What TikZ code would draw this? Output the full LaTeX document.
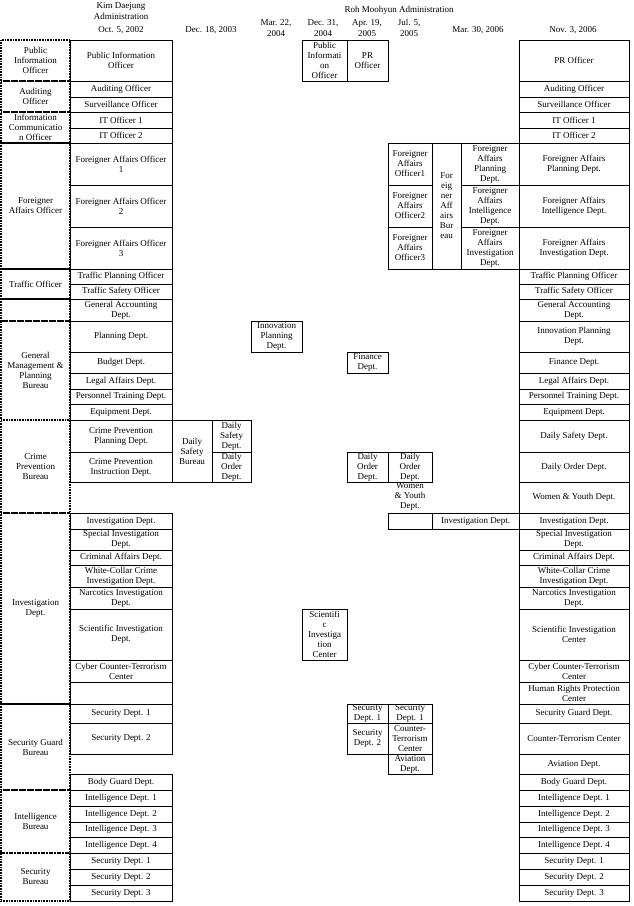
\documentclass[tikz,border=0pt]{standalone}
\usepackage{fontspec}
\setmainfont{Liberation Serif}
\tikzset{
  cellst/.style={draw, line width=0.6pt, inner sep=0pt, outer sep=0pt, align=center, font=\fontsize{9}{10}\selectfont},
  leftst/.style={densely dotted, line width=1.1pt},
  plain/.style={inner sep=0pt, outer sep=0pt, align=center, font=\fontsize{9}{10.5}\selectfont},
}
\newcommand\cel[7][]{\node[cellst,#1, minimum width={(#5-#3)*1pt}, minimum height={(#6-#4)*1pt}] (#2) at ({(#3+#5)/2},{(#4+#6)/2}) {#7};}
\begin{document}
\begin{tikzpicture}[x=1pt,y=-1pt]
\useasboundingbox (0,0) rectangle (633,906);
% headers
\node[plain] (hkim) at (121,11) {Kim Daejung\\Administration};
\node[plain] (hroh) at (399,10) {Roh Moohyun Administration};
\node[plain] (h1) at (121,30) {Oct. 5, 2002};
\node[plain] (h2) at (211,30) {Dec. 18, 2003};
\node[plain] (h3) at (276,28) {Mar. 22,\\2004};
\node[plain] (h4) at (323,28) {Dec. 31,\\2004};
\node[plain] (h5) at (367,28) {Apr. 19,\\2005};
\node[plain] (h6) at (409,28) {Jul. 5,\\2005};
\node[plain] (h7) at (478,30) {Mar. 30, 2006};
\node[plain] (h8) at (573,30) {Nov. 3, 2006};
% column A
\cel[leftst]{A1}{1}{40}{70}{81}{Public\\Information\\Officer}
\cel[leftst]{A2}{1}{81}{70}{112}{Auditing\\Officer}
\cel[leftst]{A3}{1}{112}{70}{143}{Information\\Communicatio\\n Officer}
\cel[leftst]{A4}{1}{143}{70}{269}{Foreigner\\Affairs Officer}
\cel[leftst]{A5}{1}{269}{70}{299}{Traffic Officer}
\cel[leftst]{A6}{1}{299}{70}{321}{}
\cel[leftst]{A7}{1}{321}{70}{420}{General\\Management \&\\Planning\\Bureau}
\cel[leftst]{A8}{1}{420}{70}{513}{Crime\\Prevention\\Bureau}
\cel[leftst]{A9}{1}{513}{70}{704}{Investigation\\Dept.}
\cel[leftst]{A10}{1}{704}{70}{790}{Security Guard\\Bureau}
\cel[leftst]{A11}{1}{790}{70}{853}{Intelligence\\Bureau}
\cel[leftst]{A12}{1}{853}{70}{901}{Security\\Bureau}
% column B (Oct. 5, 2002)
\cel{B1}{70}{40}{172}{81}{Public Information\\Officer}
\cel{B2}{70}{81}{172}{97}{Auditing Officer}
\cel{B3}{70}{97}{172}{112}{Surveillance Officer}
\cel{B4}{70}{112}{172}{128}{IT Officer 1}
\cel{B5}{70}{128}{172}{143}{IT Officer 2}
\cel{B6}{70}{143}{172}{185}{Foreigner Affairs Officer\\1}
\cel{B7}{70}{185}{172}{227}{Foreigner Affairs Officer\\2}
\cel{B8}{70}{227}{172}{269}{Foreigner Affairs Officer\\3}
\cel{B9}{70}{269}{172}{284}{Traffic Planning Officer}
\cel{B10}{70}{284}{172}{299}{Traffic Safety Officer}
\cel{B11}{70}{299}{172}{321}{General Accounting\\Dept.}
\cel{B12}{70}{321}{172}{352}{Planning Dept.}
\cel{B13}{70}{352}{172}{373}{Budget Dept.}
\cel{B14}{70}{373}{172}{389}{Legal Affairs Dept.}
\cel{B15}{70}{389}{172}{404}{Personnel Training Dept.}
\cel{B16}{70}{404}{172}{420}{Equipment Dept.}
\cel{B17}{70}{420}{172}{452}{Crime Prevention\\Planning Dept.}
\cel{B18}{70}{452}{172}{482}{Crime Prevention\\Instruction Dept.}
\cel{B20}{70}{513}{172}{529}{Investigation Dept.}
\cel{B21}{70}{529}{172}{550}{Special Investigation\\Dept.}
\cel{B22}{70}{550}{172}{565}{Criminal Affairs Dept.}
\cel{B23}{70}{565}{172}{587}{White-Collar Crime\\Investigation Dept.}
\cel{B24}{70}{587}{172}{609}{Narcotics Investigation\\Dept.}
\cel{B25}{70}{609}{172}{660}{Scientific Investigation\\Dept.}
\cel{B26}{70}{660}{172}{682}{Cyber Counter-Terrorism\\Center}
\cel[line width=1pt]{B27}{70}{682}{172}{704}{}
\cel{B28}{70}{704}{172}{723}{Security Dept. 1}
\cel{B29}{70}{723}{172}{754}{Security Dept. 2}
\cel{B30}{70}{774}{172}{790}{Body Guard Dept.}
\cel{B31}{70}{790}{172}{806}{Intelligence Dept. 1}
\cel{B32}{70}{806}{172}{822}{Intelligence Dept. 2}
\cel{B33}{70}{822}{172}{837}{Intelligence Dept. 3}
\cel{B34}{70}{837}{172}{853}{Intelligence Dept. 4}
\cel{B35}{70}{853}{172}{869}{Security Dept. 1}
\cel{B36}{70}{869}{172}{885}{Security Dept. 2}
\cel{B37}{70}{885}{172}{901}{Security Dept. 3}
% Dec. 18, 2003
\cel{C1}{172}{420}{212}{482}{Daily\\Safety\\Bureau}
\cel{C2}{212}{420}{251}{452}{Daily\\Safety\\Dept.}
\cel{C3}{212}{452}{251}{482}{Daily\\Order\\Dept.}
% Mar. 22, 2004
\cel{D1}{251}{321}{302}{352}{Innovation\\Planning\\Dept.}
% Dec. 31, 2004
\cel{E1}{302}{40}{347}{81}{Public\\Informati\\on\\Officer}
\cel{E2}{302}{609}{347}{660}{Scientifi\\c\\Investiga\\tion\\Center}
% Apr. 19, 2005
\cel{F1}{347}{40}{388}{81}{PR\\Officer}
\cel{F2}{347}{352}{388}{373}{Finance\\Dept.}
\cel{F3}{347}{452}{388}{482}{Daily\\Order\\Dept.}
\cel{F4}{347}{704}{388}{723}{Security\\Dept. 1}
\cel{F5}{347}{723}{388}{754}{Security\\Dept. 2}
% Jul. 5, 2005
\cel{G1}{388}{143}{432}{185}{Foreigner\\Affairs\\Officer1}
\cel{G2}{388}{185}{432}{227}{Foreigner\\Affairs\\Officer2}
\cel{G3}{388}{227}{432}{269}{Foreigner\\Affairs\\Officer3}
\cel{G4}{388}{452}{432}{482}{Daily\\Order\\Dept.}
\node[plain, font=\fontsize{9}{10}\selectfont] (G5) at (410,497) {Women\\\& Youth\\Dept.};
\cel{G6}{388}{513}{432}{529}{}
\cel{G7}{388}{704}{432}{723}{Security\\Dept. 1}
\cel{G8}{388}{723}{432}{754}{Counter-\\Terrorism\\Center}
\cel{G9}{388}{754}{432}{774}{Aviation\\Dept.}
% Mar. 30, 2006
\cel{H1}{432}{143}{461}{269}{For\\eig\\ner\\Aff\\airs\\Bur\\eau}
\cel{H2}{461}{143}{519}{185}{Foreigner\\Affairs\\Planning\\Dept.}
\cel{H3}{461}{185}{519}{227}{Foreigner\\Affairs\\Intelligence\\Dept.}
\cel{H4}{461}{227}{519}{269}{Foreigner\\Affairs\\Investigation\\Dept.}
\cel{H5}{432}{513}{519}{529}{Investigation Dept.}
% Nov. 3, 2006
\cel{R1}{519}{40}{629}{81}{PR Officer}
\cel{R2}{519}{81}{629}{97}{Auditing Officer}
\cel{R3}{519}{97}{629}{112}{Surveillance Officer}
\cel{R4}{519}{112}{629}{128}{IT Officer 1}
\cel{R5}{519}{128}{629}{143}{IT Officer 2}
\cel{R6}{519}{143}{629}{185}{Foreigner Affairs\\Planning Dept.}
\cel{R7}{519}{185}{629}{227}{Foreigner Affairs\\Intelligence Dept.}
\cel{R8}{519}{227}{629}{269}{Foreigner Affairs\\Investigation Dept.}
\cel{R9}{519}{269}{629}{284}{Traffic Planning Officer}
\cel{R10}{519}{284}{629}{299}{Traffic Safety Officer}
\cel{R11}{519}{299}{629}{321}{General Accounting\\Dept.}
\cel{R12}{519}{321}{629}{352}{Innovation Planning\\Dept.}
\cel{R13}{519}{352}{629}{373}{Finance Dept.}
\cel{R14}{519}{373}{629}{389}{Legal Affairs Dept.}
\cel{R15}{519}{389}{629}{404}{Personnel Training Dept.}
\cel{R16}{519}{404}{629}{420}{Equipment Dept.}
\cel{R17}{519}{420}{629}{452}{Daily Safety Dept.}
\cel{R18}{519}{452}{629}{482}{Daily Order Dept.}
\cel{R19}{519}{482}{629}{513}{Women \& Youth Dept.}
\cel{R20}{519}{513}{629}{529}{Investigation Dept.}
\cel{R21}{519}{529}{629}{550}{Special Investigation\\Dept.}
\cel{R22}{519}{550}{629}{565}{Criminal Affairs Dept.}
\cel{R23}{519}{565}{629}{587}{White-Collar Crime\\Investigation Dept.}
\cel{R24}{519}{587}{629}{609}{Narcotics Investigation\\Dept.}
\cel{R25}{519}{609}{629}{660}{Scientific Investigation\\Center}
\cel{R26}{519}{660}{629}{682}{Cyber Counter-Terrorism\\Center}
\cel{R27}{519}{682}{629}{704}{Human Rights Protection\\Center}
\cel{R28}{519}{704}{629}{723}{Security Guard Dept.}
\cel{R29}{519}{723}{629}{754}{Counter-Terrorism Center}
\cel{R30}{519}{754}{629}{774}{Aviation Dept.}
\cel{R31}{519}{774}{629}{790}{Body Guard Dept.}
\cel{R32}{519}{790}{629}{806}{Intelligence Dept. 1}
\cel{R33}{519}{806}{629}{822}{Intelligence Dept. 2}
\cel{R34}{519}{822}{629}{837}{Intelligence Dept. 3}
\cel{R35}{519}{837}{629}{853}{Intelligence Dept. 4}
\cel{R36}{519}{853}{629}{869}{Security Dept. 1}
\cel{R37}{519}{869}{629}{885}{Security Dept. 2}
\cel{R38}{519}{885}{629}{901}{Security Dept. 3}
\end{tikzpicture}
\end{document}
